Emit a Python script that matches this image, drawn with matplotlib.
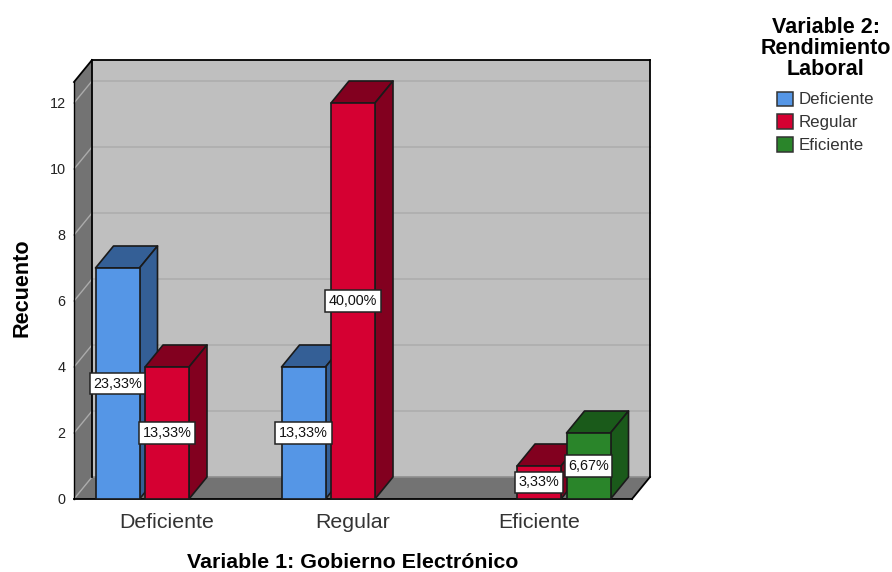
import matplotlib
matplotlib.use("Agg")
import matplotlib.pyplot as plt
from matplotlib.patches import Polygon, Patch

plt.rcParams['font.family'] = ['Liberation Sans', 'DejaVu Sans']

# Recuentos por categoria de Gobierno Electronico
categorias = ["Deficiente", "Regular", "Eficiente"]
series = ["Deficiente", "Regular", "Eficiente"]
deficiente = [7, 4, 0]
regular = [4, 12, 1]
eficiente = [0, 0, 2]
etq_deficiente = ["23,33%", "13,33%", ""]
etq_regular = ["13,33%", "40,00%", "3,33%"]
etq_eficiente = ["", "", "6,67%"]
yticks = [0, 2, 4, 6, 8, 10, 12]

colores = ["#5596E6", "#D50032", "#2A852A"]
oscuros = ["#345F96", "#82001F", "#1A5A1A"]

W, H = 892, 572
fig = plt.figure(figsize=(W / 100, H / 100), dpi=100)
# plano frontal de la caja 3D
ax = fig.add_axes([74 / W, 1 - 499 / H, 558 / W, 417 / H])
ax.set_xlim(-0.5, 2.5)
ax.set_ylim(0, 417 / 33)
ax.patch.set_visible(False)

# desplazamiento de profundidad en unidades de datos
DX = 18 / 186
DY = 22 / 33
ANCHO = 44 / 186
PASO = 49.5 / 186
x0, x1 = ax.get_xlim()
ytop = ax.get_ylim()[1]


def poly(puntos, color, edge="none", lw=0.0, z=1):
    ax.add_patch(Polygon(puntos, closed=True, facecolor=color, edgecolor=edge,
                         linewidth=lw, clip_on=False, zorder=z, joinstyle="round"))


# paredes y suelo
poly([(x0 + DX, DY), (x1 + DX, DY), (x1 + DX, ytop + DY), (x0 + DX, ytop + DY)], "#BFBFBF")
poly([(x0, 0), (x0 + DX, DY), (x0 + DX, ytop + DY), (x0, ytop)], "#737373")
poly([(x0, 0), (x1, 0), (x1 + DX, DY), (x0 + DX, DY)], "#737373")

# rejilla
for v in yticks:
    if v > 0:
        ax.plot([x0 + DX, x1 + DX], [v + DY, v + DY], color="#AEAEAE", lw=1.2, zorder=2, clip_on=False)
    ax.plot([x0, x0 + DX], [v, v + DY], color="#ABABAB", lw=1.0, zorder=2, clip_on=False)
ax.plot([x0 + DX, x1 + DX], [ytop + DY, ytop + DY], color="black", lw=1.3, zorder=3, clip_on=False)
ax.plot([x0 + DX, x1 + DX], [DY, DY], color="#8E8E8E", lw=1.2, zorder=2, clip_on=False)

# contorno de la caja
ax.plot([x0 + DX, x0 + DX], [DY, ytop + DY], color="black", lw=1.3, zorder=3, clip_on=False)
ax.plot([x1 + DX, x1 + DX], [DY, ytop + DY], color="black", lw=1.3, zorder=3, clip_on=False)
ax.plot([x0, x0 + DX], [ytop, ytop + DY], color="black", lw=1.3, zorder=3, clip_on=False)
ax.plot([x0, x0], [0, ytop], color="black", lw=1.0, zorder=3, clip_on=False)
ax.plot([x1, x1 + DX], [0, DY], color="black", lw=1.3, zorder=3, clip_on=False)

# barras con cara superior y lateral
valores = [deficiente, regular, eficiente]
etiquetas = [etq_deficiente, etq_regular, etq_eficiente]
z = 5
for c in range(len(categorias)):
    for s in range(len(series)):
        v = valores[s][c]
        if v == 0:
            continue
        izq = c + (s - 1) * PASO - ANCHO / 2
        der = izq + ANCHO
        borde = "#1A1A1A"
        poly([(izq, v), (der, v), (der + DX, v + DY), (izq + DX, v + DY)], oscuros[s], borde, 1.2, z)
        poly([(der, 0), (der + DX, DY), (der + DX, v + DY), (der, v)], oscuros[s], borde, 1.2, z)
        poly([(izq, 0), (der, 0), (der, v), (izq, v)], colores[s], borde, 1.2, z)
        z += 1

# etiquetas de porcentaje encima de las barras
for c in range(len(categorias)):
    for s in range(len(series)):
        if etiquetas[s][c]:
            xc = c + (s - 1) * PASO
            ax.text(xc, valores[s][c] / 2, etiquetas[s][c], ha="center", va="center",
                    fontsize=10.4, color="#111111", zorder=20,
                    bbox=dict(boxstyle="square,pad=0.25", facecolor="white",
                              edgecolor="#222222", linewidth=1.1))

# ejes
for lado in ["top", "left", "right"]:
    ax.spines[lado].set_visible(False)
ax.spines["bottom"].set_zorder(4)
ax.spines["bottom"].set_linewidth(1.3)
ax.set_xticks(range(len(categorias)))
ax.set_xticklabels(categorias, fontsize=15.4, color="#333333")
ax.set_yticks(yticks)
ax.tick_params(axis="y", length=0, pad=6, labelsize=10.4, labelcolor="#222222")
ax.tick_params(axis="x", length=0, pad=10)
ax.set_xlabel("Variable 1: Gobierno Electrónico", fontsize=15.4, fontweight="bold")
ax.xaxis.set_label_coords(0.5, -54 / 417, transform=ax.transAxes)
ax.set_ylabel("Recuento", fontsize=15.6, fontweight="bold")
ax.yaxis.set_label_coords(-41 / 558, 0.507, transform=ax.transAxes)

# leyenda
manejadores = [Patch(facecolor=colores[i], edgecolor="#333333", linewidth=1.1, label=series[i])
               for i in range(len(series))]
leg = fig.legend(handles=manejadores, title="Variable 2:\nRendimiento\nLaboral",
                 title_fontproperties=dict(size=15.5, weight="bold"), fontsize=12.2,
                 loc="upper left", bbox_to_anchor=(757 / W, 1 - 14 / H), frameon=False,
                 borderaxespad=0, handlelength=0.9, handleheight=0.9, handletextpad=0.33,
                 labelspacing=0.42, borderpad=0.2)
for t in leg.get_texts():
    t.set_color("#333333")
leg.get_title().set_multialignment("center")
leg.get_title().set_linespacing(1.0)
leg._legend_box.sep = 8

fig.savefig("out.png", dpi=100)
